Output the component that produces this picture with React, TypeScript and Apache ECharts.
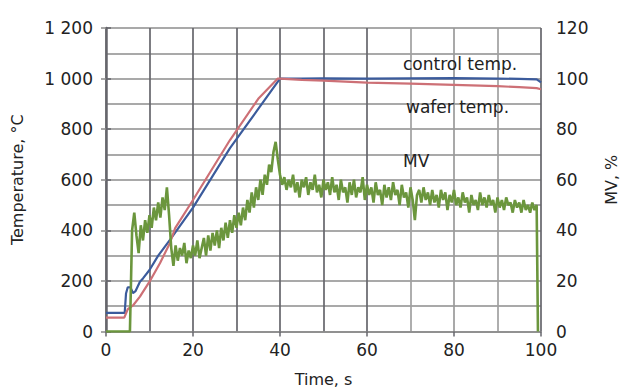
import React, { useEffect, useRef } from "react";
import * as echarts from "echarts";

// Control temperature (°C) vs time (s)
const controlTimes = [0, 4.3, 4.6, 5, 5.6, 6.2, 6.8, 7.8, 8.5, 10, 12, 14.7, 20, 28.5, 35, 40, 45, 50, 60, 70, 80, 90, 95, 99, 99.6, 100];
const controlTemps = [74, 74, 150, 175, 175, 152, 160, 197, 210, 243, 300, 362, 490, 725, 880, 1000, 1000, 1001, 1000, 1001, 1002, 1000, 999, 997, 990, 985];

// Wafer temperature (°C) vs time (s)
const waferTimes = [0, 4.2, 5, 6.2, 7.8, 10, 12.4, 14.7, 15.9, 20, 28.5, 35, 39.5, 40, 45, 50, 60, 70, 80, 90, 95, 99, 100];
const waferTemps = [55, 55, 88, 103, 138, 197, 270, 350, 409, 520, 757, 920, 1000, 1000, 995, 992, 984, 980, 975, 970, 966, 962, 958];

// MV (%) sampled every 0.5 s from 0 s to 99 s
const mvStep = 0.5;
const mvValues = [
  0, 0, 0, 0, 0, 0, 0, 0, 0, 0,
  0, 0, 40, 47, 38, 31, 42, 36, 44, 39,
  46, 41, 49, 44, 51, 45, 53, 48, 57, 46,
  33, 26, 34, 28, 33, 30, 35, 27, 32, 29,
  34, 30, 36, 29, 33, 37, 30, 38, 32, 39,
  34, 40, 33, 41, 36, 43, 37, 44, 39, 46,
  41, 47, 42, 49, 44, 52, 47, 55, 49, 57,
  52, 60, 54, 62, 58, 66, 63, 71, 75, 68,
  62, 58, 61, 56, 60, 57, 62, 55, 59, 53,
  60, 57, 61, 54, 59, 56, 62, 55, 58, 53,
  60, 56, 59, 54, 61, 55, 58, 52, 60, 55,
  57, 51, 59, 54, 60, 53, 57, 55, 61, 52,
  58, 54, 57, 51, 59, 54, 56, 50, 58, 53,
  57, 52, 59, 54, 56, 50, 58, 53, 55, 49,
  57, 52, 44, 54, 56, 51, 57, 52, 55, 50,
  56, 51, 54, 49, 56, 52, 55, 48, 54, 51,
  56, 50, 53, 49, 55, 51, 53, 47, 54, 50,
  52, 48, 55, 50, 53, 49, 54, 50, 52, 47,
  53, 49, 52, 48, 53, 50, 51, 47, 52, 49,
  51, 47, 52, 48, 50, 47, 51, 48, 50,
];
const mvEndTimes = [99.3];
const mvEndValues = [0];

const xTicks = [0, 20, 40, 60, 80, 100];
const leftTicks = [0, 200, 400, 600, 800, 1000, 1200];
const rightTicks = [0, 20, 40, 60, 80, 100, 120];

const seriesLabels = ["control temp.", "wafer temp.", "MV"];

const FONT = "DejaVu Sans";

export default function App() {
  const ref = useRef<HTMLDivElement>(null);

  useEffect(() => {
    if (!ref.current) return;
    const chart = echarts.init(ref.current, undefined, { renderer: "svg" });

    const controlData = controlTimes.map((t, i) => [t, controlTemps[i]]);
    const waferData = waferTimes.map((t, i) => [t, waferTemps[i]]);
    const mvData = mvValues.map((v, i) => [i * mvStep, v]);
    mvEndTimes.forEach((t, i) => mvData.push([t, mvEndValues[i]]));

    const vColors = ["#8a8a8a", "#66666c", "#66666c", "#66666c", "#66666c", "#66666c", "#66666c", "#a0a0a0", "#9a9a9a", "#a0a0a0", "#66666c"];

    const option: any = {
      animation: false,
      backgroundColor: "#ffffff",
      textStyle: { fontFamily: FONT },
      grid: { left: 106, right: 81, top: 28, bottom: 59.5, containLabel: false, outerBoundsMode: "none" },
      xAxis: [
        {
          type: "value",
          min: xTicks[0],
          max: xTicks[xTicks.length - 1],
          interval: xTicks[1] - xTicks[0],
          name: "Time, s",
          nameLocation: "middle",
          nameGap: 40,
          nameTextStyle: { fontSize: 16, color: "#222", fontFamily: FONT },
          axisLine: { show: true, lineStyle: { color: "#8a8a8a", width: 1.5 } },
          axisTick: { show: true, inside: false, length: 5, lineStyle: { color: "#66666c", width: 1.5 } },
          axisLabel: { fontSize: 17, color: "#222", margin: 10, fontFamily: FONT },
          splitLine: { show: false },
        },
        {
          type: "value",
          min: 0,
          max: 100,
          interval: 10,
          position: "bottom",
          axisLine: { show: false },
          axisTick: { show: false },
          axisLabel: { show: false },
          splitLine: { show: true, lineStyle: { color: vColors, width: 1.7 } },
        },
      ],
      yAxis: [
        {
          type: "value",
          position: "left",
          min: leftTicks[0],
          max: leftTicks[leftTicks.length - 1],
          interval: leftTicks[1] - leftTicks[0],
          name: "Temperature, °C",
          nameLocation: "middle",
          nameGap: 81,
          nameTextStyle: { fontSize: 16, color: "#222", fontFamily: FONT },
          axisLine: { show: true, lineStyle: { color: "#8a8a8a", width: 1.5 } },
          axisTick: { show: true, inside: false, length: 5, lineStyle: { color: "#8a8a8a", width: 1.5 } },
          axisLabel: {
            fontSize: 17,
            color: "#222",
            margin: 13,
            fontFamily: FONT,
            formatter: (v: number) => (v >= 1000 ? Math.floor(v / 1000) + " " + String(v % 1000).padStart(3, "0") : String(v)),
          },
          splitLine: { show: true, lineStyle: { color: "#8c8c8c", width: 1.5 } },
          minorTick: { show: false, splitNumber: 2 },
          minorSplitLine: { show: true, lineStyle: { color: "#8c8c8c", width: 1.5 } },
        },
        {
          type: "value",
          position: "right",
          min: rightTicks[0],
          max: rightTicks[rightTicks.length - 1],
          interval: rightTicks[1] - rightTicks[0],
          name: "MV, %",
          nameLocation: "middle",
          nameGap: 62,
          nameRotate: 90,
          nameTextStyle: { fontSize: 16, color: "#222", fontFamily: FONT },
          axisLine: { show: true, lineStyle: { color: "#66666c", width: 2.5 } },
          axisTick: { show: true, inside: false, length: 5, lineStyle: { color: "#66666c", width: 1.5 } },
          axisLabel: { fontSize: 17, color: "#222", margin: 15, fontFamily: FONT },
          splitLine: { show: false },
        },
      ],
      series: [
        {
          name: seriesLabels[0],
          type: "line",
          xAxisIndex: 0,
          yAxisIndex: 0,
          data: controlData,
          showSymbol: false,
          smooth: false,
          lineStyle: { color: "#3b5b9c", width: 2.2 },
          z: 3,
        },
        {
          name: seriesLabels[1],
          type: "line",
          xAxisIndex: 0,
          yAxisIndex: 0,
          data: waferData,
          showSymbol: false,
          lineStyle: { color: "#cd7076", width: 2.2 },
          z: 3,
        },
        {
          name: seriesLabels[2],
          type: "line",
          xAxisIndex: 0,
          yAxisIndex: 1,
          data: mvData,
          showSymbol: false,
          lineStyle: { color: "#6b963d", width: 2.6 },
          z: 4,
        },
      ],
      graphic: [
        { type: "text", left: 403, top: 55, z: 10, style: { text: seriesLabels[0], font: `17px '${FONT}'`, fill: "#222" } },
        { type: "text", left: 406, top: 98, z: 10, style: { text: seriesLabels[1], font: `17px '${FONT}'`, fill: "#222" } },
        { type: "text", left: 403, top: 152, z: 10, style: { text: seriesLabels[2], font: `17px '${FONT}'`, fill: "#222" } },
      ],
    };

    chart.setOption(option);
    return () => chart.dispose();
  }, []);

  return <div ref={ref} style={{ width: 622, height: 391, position: "absolute", left: 0, top: 0 }} />;
}
